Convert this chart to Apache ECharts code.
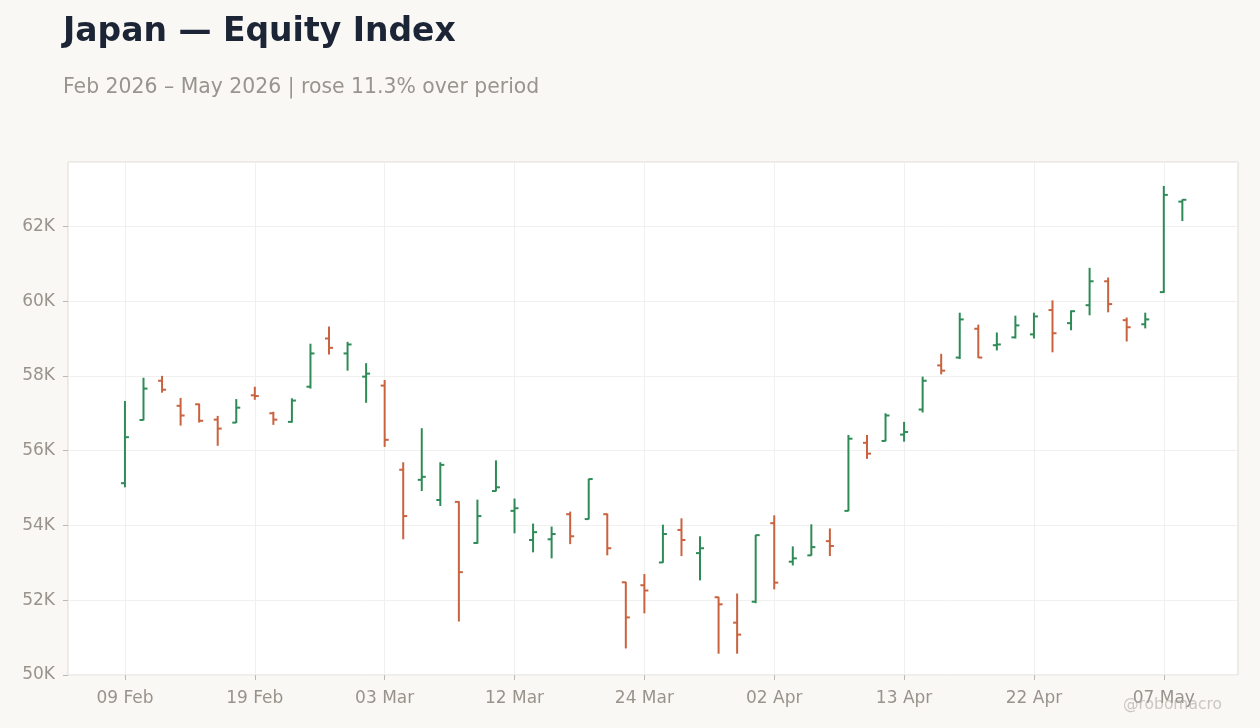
<!DOCTYPE html>
<html>
<head>
<meta charset="utf-8">
<title>Japan — Equity Index</title>
<script src="https://cdn.jsdelivr.net/npm/echarts@6/dist/echarts.min.js"></script>
<style>
    html, body { margin: 0; padding: 0; background: #f9f8f5; }
    #chart { width: 1260px; height: 728px; }
</style>
</head>
<body>
<div id="chart"></div>
<script>
// Trading days (Tokyo holidays skipped)
const dates = [
    '09 Feb', '10 Feb', '12 Feb', '13 Feb', '16 Feb', '17 Feb', '18 Feb', '19 Feb', '20 Feb', '24 Feb',
    '25 Feb', '26 Feb', '27 Feb', '02 Mar', '03 Mar', '04 Mar', '05 Mar', '06 Mar', '09 Mar', '10 Mar',
    '11 Mar', '12 Mar', '13 Mar', '16 Mar', '17 Mar', '18 Mar', '19 Mar', '23 Mar', '24 Mar', '25 Mar',
    '26 Mar', '27 Mar', '30 Mar', '31 Mar', '01 Apr', '02 Apr', '03 Apr', '06 Apr', '07 Apr', '08 Apr',
    '09 Apr', '10 Apr', '13 Apr', '14 Apr', '15 Apr', '16 Apr', '17 Apr', '20 Apr', '21 Apr', '22 Apr',
    '23 Apr', '24 Apr', '27 Apr', '28 Apr', '30 Apr', '01 May', '07 May', '08 May'
];

const opens = [
    55130, 56820, 57870, 57200, 57240, 56830, 56750, 57480, 57000, 56770,
    57710, 59000, 58600, 57980, 57740, 55490, 55220, 54680, 54630, 53530,
    54920, 54390, 53610, 53630, 54300, 54170, 54300, 52480, 52400, 53010,
    53880, 53260, 52080, 51400, 51960, 54060, 53030, 53200, 53580, 54390,
    56210, 56260, 56430, 57100, 58280, 58490, 59260, 58820, 59030, 59110,
    59760, 59410, 59890, 60530, 59490, 59380, 60240, 62660
];
const highs = [
    57330, 57950, 58000, 57410, 57260, 56930, 57380, 57710, 57040, 57400,
    58860, 59320, 58910, 58340, 57890, 55690, 56600, 55690, 54650, 54690,
    55740, 54720, 54050, 53970, 54370, 55250, 54320, 52490, 52700, 54020,
    54190, 53710, 52090, 52180, 53750, 54270, 53440, 54030, 53920, 56420,
    56420, 57000, 56770, 57980, 58590, 59690, 59370, 59160, 59610, 59690,
    60020, 59750, 60890, 60630, 59560, 59690, 63080, 62720
];
const lows = [
    55020, 56810, 57550, 56670, 56750, 56130, 56740, 57360, 56690, 56750,
    57660, 58570, 58140, 57280, 56100, 53630, 54920, 54520, 51430, 53510,
    54910, 53790, 53280, 53120, 53500, 54160, 53200, 50710, 51650, 53000,
    53180, 52530, 50570, 50570, 51920, 52290, 52930, 53190, 53180, 54380,
    55780, 56250, 56240, 57020, 58040, 58450, 58480, 58680, 59000, 59000,
    58630, 59220, 59620, 59700, 58920, 59270, 60220, 62140
];
const closes = [
    56360, 57660, 57630, 56940, 56800, 56590, 57150, 57460, 56830, 57340,
    58600, 58750, 58840, 58060, 56290, 54250, 55300, 55620, 52750, 54250,
    55020, 54460, 53820, 53770, 53710, 55240, 53390, 51540, 52260, 53770,
    53610, 53390, 51890, 51080, 53740, 52470, 53120, 53420, 53450, 56320,
    55920, 56940, 56500, 57870, 58140, 59510, 58490, 58840, 59350, 59590,
    59140, 59730, 60530, 59920, 59300, 59510, 62840, 62710
];

const labelSteps = [0, 7, 14, 21, 28, 35, 42, 49, 56];

const UP = '#2e8b57';
const DOWN = '#c9623f';
const AXIS_TEXT = '#9a938c';
const FONT = 'DejaVu Sans';

const ohlc = dates.map((d, i) => [i, opens[i], highs[i], lows[i], closes[i]]);

function renderBar(params, api) {
    const x = api.value(0);
    const o = api.coord([x, api.value(1)]);
    const h = api.coord([x, api.value(2)]);
    const l = api.coord([x, api.value(3)]);
    const c = api.coord([x, api.value(4)]);
    const color = api.value(4) >= api.value(1) ? UP : DOWN;
    const style = { stroke: color, lineWidth: 2 };
    return {
        type: 'group',
        children: [
            { type: 'line', shape: { x1: h[0], y1: h[1], x2: l[0], y2: l[1] }, style: style },
            { type: 'line', shape: { x1: o[0] - 4, y1: o[1], x2: o[0], y2: o[1] }, style: style },
            { type: 'line', shape: { x1: c[0], y1: c[1], x2: c[0] + 4, y2: c[1] }, style: style }
        ]
    };
}

const chart = echarts.init(document.getElementById('chart'));

chart.setOption({
    backgroundColor: '#f9f8f5',
    animation: false,
    textStyle: { fontFamily: FONT },
    title: {
        text: 'Japan — Equity Index',
        subtext: 'Feb 2026 – May 2026 | rose 11.3% over period',
        left: 58,
        top: 11,
        itemGap: 29,
        textStyle: { fontFamily: FONT, fontSize: 33, fontWeight: 'bold', color: '#1c2536' },
        subtextStyle: { fontFamily: FONT, fontSize: 20.4, color: '#9a948e' }
    },
    graphic: [{
        type: 'text',
        right: 38,
        top: 697,
        z: 100,
        style: { text: '@robomacro', font: '15.5px "DejaVu Sans"', fill: 'rgba(170,165,160,0.6)' }
    }],
    grid: {
        left: 68,
        right: 22,
        top: 162,
        bottom: 53,
        show: true,
        backgroundColor: '#ffffff',
        borderColor: '#dfdad4',
        borderWidth: 1
    },
    xAxis: {
        type: 'value',
        min: -3.07,
        max: 60,
        axisLine: { show: false, onZero: false },
        axisTick: { show: true, length: 5, customValues: labelSteps, lineStyle: { color: '#bdb7b1' } },
        axisLabel: {
            customValues: labelSteps,
            formatter: (v) => dates[v] || '',
            color: AXIS_TEXT,
            fontSize: 17,
            margin: 15
        },
        splitLine: { show: true, lineStyle: { color: '#f1f0ee', width: 1 } }
    },
    yAxis: {
        type: 'value',
        min: 50000,
        max: 63720,
        interval: 2000,
        axisLine: { show: false, onZero: false },
        axisTick: { show: true, length: 5, lineStyle: { color: '#bdb7b1' } },
        axisLabel: {
            formatter: (v) => (v % 2000 === 0 ? v / 1000 + 'K' : ''),
            showMaxLabel: false,
            color: AXIS_TEXT,
            fontSize: 17,
            margin: 13
        },
        splitLine: { show: true, lineStyle: { color: '#f1f0ee', width: 1 } }
    },
    series: [{
        type: 'custom',
        name: 'Index',
        renderItem: renderBar,
        encode: { x: 0, y: [1, 2, 3, 4] },
        data: ohlc
    }]
});
</script>
</body>
</html>
